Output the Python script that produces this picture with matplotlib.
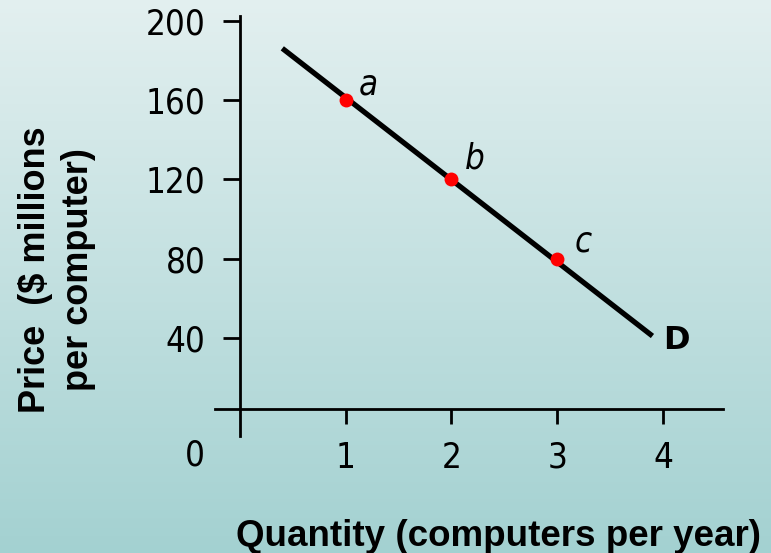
import matplotlib
matplotlib.use("Agg")
import matplotlib.pyplot as plt
import numpy as np

# demand schedule for computers
qty_points = [1, 2, 3]
price_points = [160, 120, 80]
point_names = ["a", "b", "c"]

demand_qty = [0.4, 3.9]
demand_price = [186, 41]

x_ticks = [1, 2, 3, 4]
y_ticks = [40, 80, 120, 160, 200]

W, H = 771, 553
fig = plt.figure(figsize=(W / 100, H / 100), dpi=100)

# teal background, light at the top and darker at the bottom
bg = fig.add_axes([0, 0, 1, 1], zorder=0)
top = np.array([0.890, 0.940, 0.940])
bottom = np.array([0.640, 0.820, 0.820])
t = np.linspace(0, 1, 256)[:, None, None]
grad = top * (1 - t) + bottom * t
grad = np.repeat(grad, 2, axis=1)
bg.imshow(grad, aspect="auto", extent=[0, 1, 0, 1])
bg.set_axis_off()

# axes box in pixels: left, top, right, bottom
left_px, top_px, right_px, bot_px = 214.6, 16, 723.3, 435.6
ax = fig.add_axes([left_px / W, 1 - bot_px / H,
                   (right_px - left_px) / W, (bot_px - top_px) / H], zorder=1)
ax.patch.set_alpha(0)
ax.set_xlim(-0.24, 4.57)
ax.set_ylim(-9.2, 202.3)

for s in ["top", "right"]:
    ax.spines[s].set_visible(False)
ax.spines["left"].set_position(("data", 0))
ax.spines["bottom"].set_position(("data", 4.2))
for s in ["left", "bottom"]:
    ax.spines[s].set_linewidth(2)

ax.set_xticks(x_ticks)
ax.set_yticks(y_ticks)
ax.tick_params(axis="y", direction="out", length=12, width=2, pad=13)
ax.tick_params(axis="x", direction="out", length=11, width=2, pad=12)
for lab in ax.get_xticklabels() + ax.get_yticklabels():
    lab.set_fontsize(25)
    lab.set_fontstretch("condensed")

ax.plot(demand_qty, demand_price, color="black", lw=3.8, solid_capstyle="butt", zorder=2)
ax.plot(qty_points, price_points, "o", color="#ff0000", ms=10, mec="none", zorder=3)

offsets = [(16, 11), (17, 15), (19, 12)]
for q, p, name, off in zip(qty_points, price_points, point_names, offsets):
    ax.annotate(name, (q, p), xytext=off, textcoords="offset points",
                ha="center", va="center", fontsize=25, style="italic",
                fontstretch="condensed")

ax.annotate("D", (demand_qty[-1], demand_price[-1]), xytext=(17, -3),
            textcoords="offset points", ha="center", va="center",
            fontsize=23, fontweight="bold")

# origin label sits left of the vertical axis
fig.text(195 / W, 1 - 455 / H, "0", ha="center", va="center", fontsize=25,
         fontstretch="condensed")

fig.text(499 / W, 1 - 536 / H, "Quantity (computers per year)",
         ha="center", va="center", fontsize=26.5, fontweight="bold",
         family="Liberation Sans")
fig.text(57 / W, 1 - 270 / H, "Price  ($ millions\nper computer)",
         ha="center", va="center", rotation=90, multialignment="center",
         fontsize=26, fontweight="bold", family="Liberation Sans", linespacing=1.3)

fig.savefig("out.png", dpi=100)
